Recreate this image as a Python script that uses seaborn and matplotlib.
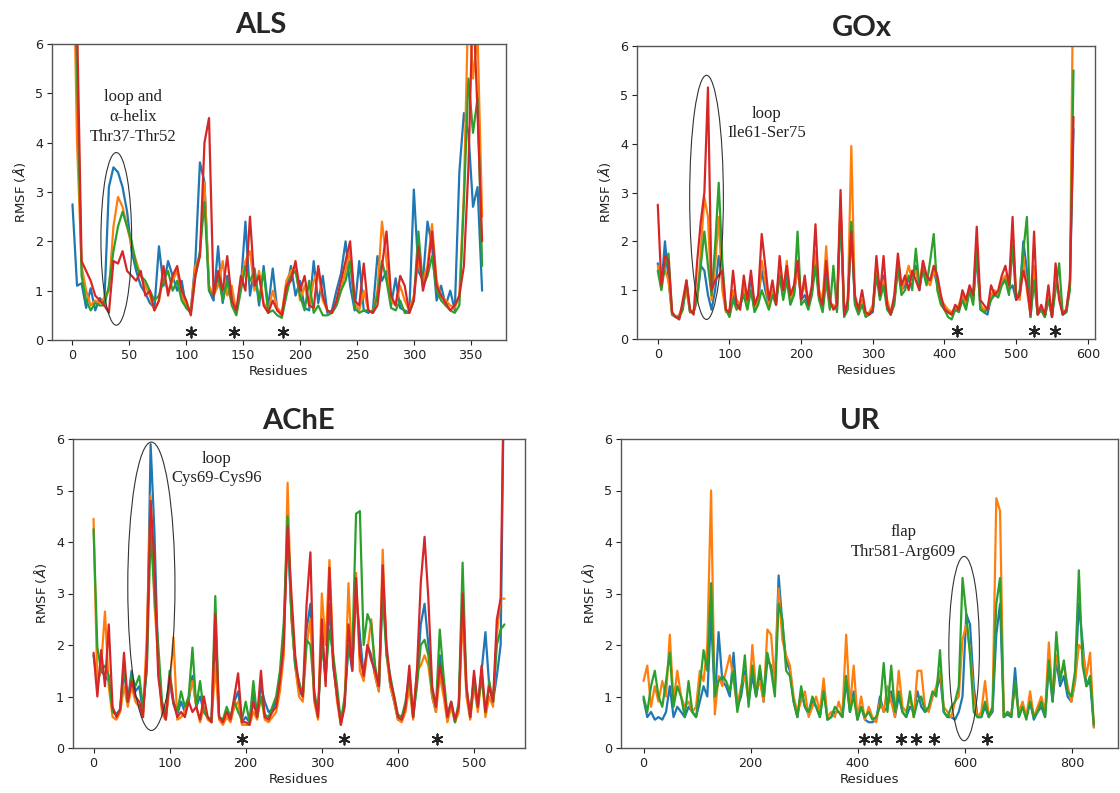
import numpy as np
import pandas as pd
import seaborn as sns
import matplotlib
matplotlib.use("Agg")
import matplotlib.pyplot as plt
from matplotlib.patches import Ellipse

sns.set_theme(style="ticks")
plt.rcParams["font.family"] = ["DejaVu Sans"]
plt.rcParams["mathtext.fontset"] = "dejavusans"

RUNS = ["Run 1", "Run 2", "Run 3", "Run 4"]
COLORS = dict(zip(RUNS, sns.color_palette("tab10", 4)))

# ---------------------------------------------------------------- ALS
als_residue = np.arange(0, 361, 4)
als_run1 = [2.75, 1.10, 1.15, 0.65, 1.05, 0.60, 0.85, 0.75, 3.10, 3.50,
            3.40, 3.10, 2.60, 1.80, 1.40, 1.10, 0.95, 0.75, 0.65, 1.90,
            1.10, 1.60, 1.30, 1.00, 1.20, 0.65, 0.60, 1.60, 3.60, 3.20,
            1.00, 0.80, 1.90, 0.75, 1.30, 0.90, 0.55, 1.10, 2.40, 0.90,
            1.45, 0.70, 1.50, 0.65, 1.45, 0.60, 0.55, 1.00, 1.50, 0.90,
            1.20, 0.65, 0.60, 1.60, 0.75, 1.30, 0.55, 0.60, 1.00, 1.35,
            2.00, 1.10, 0.60, 1.60, 0.60, 0.55, 0.60, 1.70, 1.20, 1.40,
            0.70, 1.25, 0.65, 0.60, 0.55, 3.05, 1.40, 1.20, 2.40, 1.90,
            0.80, 1.10, 0.70, 1.00, 0.60, 3.40, 4.60, 4.20, 2.70, 3.10,
            1.00]
als_run2 = [9.00, 4.00, 1.50, 1.00, 0.70, 0.80, 0.75, 0.85, 1.00, 2.30,
            2.90, 2.70, 2.30, 1.90, 1.60, 1.30, 1.10, 0.90, 0.60, 0.80,
            1.30, 1.00, 1.20, 1.40, 0.90, 0.70, 0.60, 1.50, 1.70, 3.20,
            1.10, 0.90, 1.10, 1.60, 0.90, 1.10, 0.55, 1.20, 1.60, 1.80,
            1.00, 1.40, 0.75, 0.60, 1.00, 0.65, 0.55, 1.20, 1.40, 1.50,
            0.80, 1.10, 0.70, 1.20, 1.40, 0.80, 0.60, 0.55, 0.70, 1.00,
            1.40, 1.80, 0.75, 0.60, 1.00, 0.60, 0.55, 1.00, 2.40, 1.60,
            0.80, 0.70, 1.10, 0.80, 0.60, 0.90, 1.60, 1.20, 1.50, 2.35,
            1.20, 0.90, 0.80, 0.70, 0.65, 0.90, 3.00, 7.00, 5.30, 6.20,
            2.50]
als_run3 = [9.00, 5.50, 1.30, 0.80, 0.60, 0.75, 0.70, 0.70, 1.10, 1.80,
            2.30, 2.60, 2.30, 2.00, 1.50, 1.30, 1.20, 1.00, 0.80, 0.90,
            1.20, 1.40, 1.00, 1.20, 0.80, 0.65, 0.55, 1.30, 1.80, 2.80,
            1.00, 0.90, 1.30, 0.80, 1.20, 0.70, 0.50, 1.00, 1.50, 1.20,
            1.40, 0.80, 1.40, 0.55, 0.60, 0.50, 0.45, 0.90, 1.30, 1.40,
            0.90, 0.60, 1.20, 0.55, 0.70, 0.50, 0.50, 0.55, 0.70, 1.00,
            1.20, 1.60, 0.65, 0.55, 0.60, 0.60, 0.55, 0.90, 1.60, 1.20,
            0.65, 0.60, 0.80, 0.55, 0.55, 0.80, 2.20, 1.10, 1.30, 1.70,
            1.00, 0.80, 0.70, 0.60, 0.55, 0.70, 2.80, 5.30, 4.20, 4.90,
            1.50]
als_run4 = [9.00, 6.50, 1.60, 1.40, 1.20, 0.90, 0.80, 0.70, 0.55, 1.60,
            1.55, 1.80, 1.40, 1.30, 1.20, 1.40, 0.90, 1.00, 0.60, 0.80,
            1.50, 0.90, 1.30, 1.50, 1.00, 0.80, 0.50, 1.30, 1.70, 4.00,
            4.50, 0.90, 1.40, 1.00, 1.70, 0.80, 0.60, 1.30, 1.00, 2.50,
            1.10, 1.30, 0.70, 0.55, 0.80, 0.60, 0.50, 1.10, 1.20, 1.60,
            1.00, 1.30, 0.70, 0.65, 1.50, 0.90, 0.60, 0.55, 0.80, 1.20,
            1.60, 2.00, 0.80, 0.70, 1.55, 0.60, 0.55, 0.70, 1.50, 2.20,
            0.90, 0.70, 1.30, 1.10, 0.55, 0.80, 1.90, 1.00, 1.40, 2.20,
            1.10, 0.90, 0.75, 0.60, 0.70, 0.90, 1.50, 3.50, 7.00, 4.60,
            2.00]
als_stars = [104, 142, 185]

# ---------------------------------------------------------------- GOx
gox_residue = np.arange(0, 581, 5)
gox_run1 = [1.55, 1.05, 2.00, 1.20, 0.50, 0.45, 0.45, 0.70, 1.10, 0.55,
            0.55, 0.80, 1.50, 1.40, 0.90, 0.60, 1.00, 1.70, 1.20, 0.60,
            0.50, 0.90, 0.70, 0.70, 1.00, 0.65, 1.30, 0.60, 0.80, 1.40,
            1.00, 0.70, 1.00, 0.75, 1.40, 0.85, 1.30, 0.80, 0.90, 1.50,
            0.80, 0.90, 0.70, 0.95, 1.70, 0.85, 0.65, 1.40, 0.70, 0.65,
            0.60, 2.70, 0.50, 0.70, 2.30, 0.75, 0.55, 0.80, 0.50, 0.50,
            0.55, 1.50, 0.85, 1.30, 0.70, 0.50, 0.80, 1.50, 1.00, 1.10,
            1.20, 1.30, 1.50, 1.00, 1.50, 1.20, 1.20, 1.40, 1.10, 0.75,
            0.65, 0.55, 0.50, 0.60, 0.60, 0.85, 0.70, 1.00, 0.80, 1.70,
            0.70, 0.55, 0.50, 0.85, 0.95, 0.90, 1.15, 1.25, 1.00, 1.10,
            0.80, 0.90, 2.00, 1.40, 0.45, 1.30, 0.50, 0.60, 0.45, 0.85,
            0.45, 1.20, 0.90, 0.50, 0.55, 1.10, 4.30]
gox_run2 = [1.50, 1.20, 1.40, 1.20, 0.50, 0.45, 0.50, 0.70, 1.00, 0.55,
            0.60, 0.80, 1.80, 2.90, 2.50, 0.80, 1.50, 2.50, 1.00, 0.55,
            0.60, 1.00, 0.80, 0.70, 1.10, 0.70, 1.00, 0.60, 0.80, 1.60,
            1.20, 0.70, 1.00, 0.80, 1.40, 0.90, 1.60, 0.80, 1.00, 1.40,
            0.90, 1.10, 0.80, 1.00, 1.80, 1.00, 0.80, 1.90, 0.70, 0.70,
            0.60, 2.80, 0.60, 0.70, 3.95, 0.80, 0.55, 0.80, 0.50, 0.55,
            0.70, 1.40, 1.00, 1.20, 0.80, 0.55, 0.80, 1.40, 1.00, 1.20,
            1.50, 1.20, 1.40, 1.10, 1.60, 1.20, 1.10, 1.40, 1.20, 0.80,
            0.70, 0.60, 0.55, 0.60, 0.70, 0.90, 0.70, 1.00, 0.80, 2.00,
            0.70, 0.60, 0.65, 0.90, 1.00, 0.90, 1.20, 1.30, 1.00, 2.20,
            0.90, 0.80, 1.70, 1.00, 0.50, 1.50, 0.55, 0.60, 0.45, 0.90,
            0.50, 1.30, 0.90, 0.55, 0.60, 1.10, 8.00]
gox_run3 = [1.40, 1.00, 1.50, 1.75, 0.50, 0.45, 0.45, 0.60, 1.20, 0.55,
            0.55, 0.90, 1.50, 2.20, 1.50, 0.90, 1.90, 3.20, 1.60, 0.60,
            0.45, 0.80, 0.60, 0.70, 0.90, 0.60, 1.00, 0.55, 0.70, 1.00,
            0.80, 0.60, 0.90, 0.70, 1.30, 0.80, 1.20, 0.70, 0.90, 2.20,
            0.70, 0.80, 0.60, 0.90, 1.50, 0.80, 0.55, 1.20, 0.60, 1.50,
            0.55, 2.60, 0.45, 0.60, 2.40, 0.70, 0.50, 0.70, 0.45, 0.50,
            0.60, 1.30, 0.80, 1.10, 0.60, 0.50, 0.70, 1.50, 0.90, 1.00,
            1.30, 1.00, 1.85, 1.10, 1.40, 1.10, 1.60, 2.15, 1.00, 0.70,
            0.60, 0.45, 0.40, 0.60, 0.55, 0.80, 0.60, 1.00, 0.70, 1.80,
            0.60, 0.55, 0.60, 0.80, 0.90, 0.85, 1.10, 1.20, 0.90, 1.90,
            0.80, 1.00, 1.80, 2.50, 0.45, 1.20, 0.50, 0.60, 0.45, 0.80,
            0.45, 1.00, 1.55, 0.50, 0.55, 1.00, 5.50]
gox_run4 = [2.75, 1.10, 1.70, 1.60, 0.55, 0.45, 0.40, 0.80, 1.20, 0.60,
            0.50, 1.60, 2.40, 3.00, 5.15, 1.00, 1.20, 1.30, 1.40, 0.60,
            0.55, 1.40, 0.70, 0.60, 1.30, 0.80, 1.40, 0.70, 0.90, 2.15,
            1.50, 0.80, 1.20, 0.70, 1.70, 1.00, 1.50, 0.90, 1.10, 1.60,
            0.80, 1.30, 0.70, 1.10, 2.35, 0.90, 0.70, 1.60, 0.80, 0.60,
            0.70, 3.05, 0.50, 0.80, 2.20, 0.90, 0.60, 1.00, 0.55, 0.50,
            0.60, 1.70, 0.90, 1.70, 0.70, 0.50, 0.90, 1.75, 1.10, 1.30,
            1.00, 1.40, 1.20, 1.00, 1.60, 1.30, 1.20, 1.50, 1.30, 0.90,
            0.60, 0.55, 0.50, 0.70, 0.60, 1.00, 0.80, 1.10, 0.90, 2.30,
            0.80, 0.70, 0.60, 1.10, 0.90, 1.00, 1.30, 1.50, 1.10, 2.50,
            0.80, 0.90, 1.40, 1.10, 0.50, 2.20, 0.50, 0.70, 0.50, 1.10,
            0.45, 1.55, 0.80, 0.50, 0.60, 1.20, 4.55]
gox_stars = [417, 525, 554]

# ---------------------------------------------------------------- AChE
ache_residue = np.arange(0, 541, 5)
ache_run1 = [1.80, 1.30, 1.50, 1.40, 1.30, 0.75, 0.65, 0.75, 1.50, 0.90,
             1.50, 1.10, 1.20, 0.70, 1.60, 5.90, 4.20, 1.60, 0.80, 0.60,
             1.30, 0.85, 0.65, 0.90, 0.70, 0.90, 1.40, 0.80, 1.00, 0.70,
             0.60, 0.50, 2.20, 0.60, 0.55, 0.70, 0.55, 0.90, 1.10, 0.50,
             0.60, 0.50, 1.10, 0.60, 1.20, 0.90, 0.70, 0.75, 0.90, 1.30,
             2.20, 4.20, 2.60, 1.60, 1.10, 1.00, 2.30, 2.80, 1.00, 0.65,
             2.20, 1.30, 2.80, 1.60, 1.00, 0.50, 0.90, 2.00, 1.50, 3.00,
             2.20, 1.40, 2.00, 1.80, 1.40, 1.10, 3.20, 1.90, 1.20, 0.90,
             0.55, 0.55, 0.80, 1.30, 0.60, 1.30, 2.40, 2.80, 2.00, 1.00,
             0.70, 1.80, 1.20, 0.55, 0.85, 0.50, 0.80, 2.90, 1.10, 0.60,
             1.40, 0.80, 1.50, 2.25, 1.20, 0.90, 1.40, 2.00, 8.00]
ache_run2 = [4.45, 1.20, 1.60, 2.65, 1.20, 0.60, 0.55, 0.70, 1.20, 0.80,
             1.20, 0.90, 0.80, 0.60, 2.20, 4.90, 2.80, 1.70, 0.65, 0.55,
             1.20, 2.15, 0.55, 0.60, 0.70, 1.00, 1.30, 0.80, 0.50, 0.80,
             0.55, 0.50, 1.60, 0.55, 0.45, 0.60, 0.50, 0.80, 0.90, 0.45,
             0.45, 0.45, 0.70, 0.55, 1.00, 0.55, 0.50, 0.60, 0.70, 1.10,
             1.80, 5.15, 2.50, 1.60, 1.00, 0.90, 2.00, 2.50, 0.90, 0.55,
             3.00, 2.00, 3.65, 1.80, 0.90, 0.45, 0.90, 3.20, 1.60, 3.40,
             1.50, 1.30, 1.90, 2.50, 1.40, 1.10, 3.85, 1.80, 1.20, 0.90,
             0.55, 0.50, 0.70, 1.20, 0.55, 1.50, 1.60, 1.80, 1.60, 1.00,
             0.70, 1.40, 1.00, 0.50, 0.80, 0.50, 0.70, 2.60, 1.00, 0.55,
             1.20, 0.70, 1.40, 0.60, 1.00, 0.80, 2.20, 2.90, 2.90]
ache_run3 = [4.25, 1.95, 1.50, 1.60, 1.40, 0.70, 0.65, 0.75, 1.60, 0.90,
             1.40, 1.20, 1.40, 0.80, 1.50, 4.20, 3.00, 2.00, 0.90, 0.65,
             1.50, 0.90, 0.70, 1.10, 0.80, 1.00, 1.95, 0.80, 1.30, 0.70,
             0.60, 0.55, 2.95, 0.60, 0.55, 0.80, 0.60, 0.90, 0.70, 0.55,
             0.90, 0.50, 1.30, 0.60, 1.00, 0.65, 0.60, 0.80, 1.00, 1.50,
             2.45, 4.50, 2.60, 1.60, 1.30, 1.00, 2.10, 2.00, 1.10, 0.70,
             2.00, 1.40, 2.30, 1.80, 1.20, 0.50, 1.00, 2.00, 1.80, 4.55,
             4.60, 2.00, 2.60, 2.40, 1.60, 1.20, 3.00, 1.80, 1.40, 1.00,
             0.65, 0.60, 0.90, 1.40, 0.60, 1.20, 2.00, 2.10, 1.80, 1.10,
             0.80, 2.30, 1.40, 0.65, 0.90, 0.50, 0.90, 3.60, 1.20, 0.60,
             1.30, 0.80, 1.40, 0.70, 1.30, 0.90, 2.00, 2.30, 2.40]
ache_run4 = [1.85, 1.00, 1.90, 1.20, 2.40, 0.80, 0.60, 0.75, 1.85, 0.90,
             1.30, 1.00, 0.90, 0.60, 1.80, 4.80, 3.60, 1.40, 0.80, 0.55,
             1.40, 0.90, 0.60, 0.70, 0.60, 0.90, 0.70, 0.80, 0.55, 1.00,
             0.60, 0.50, 2.60, 0.60, 0.50, 0.70, 0.55, 1.00, 1.45, 0.50,
             0.50, 0.45, 0.90, 0.60, 1.50, 0.60, 0.55, 0.70, 0.80, 1.30,
             2.00, 4.30, 3.00, 1.80, 1.20, 1.00, 2.80, 3.80, 1.00, 0.60,
             2.50, 1.20, 3.50, 1.60, 1.00, 0.45, 0.80, 2.40, 1.50, 3.30,
             1.80, 1.40, 2.00, 1.70, 1.50, 1.20, 3.55, 2.00, 1.30, 1.00,
             0.60, 0.55, 0.80, 1.60, 0.60, 1.50, 3.20, 4.10, 2.90, 1.20,
             0.80, 1.60, 1.20, 0.60, 0.90, 0.55, 0.80, 3.00, 1.20, 0.60,
             1.50, 0.80, 1.60, 0.70, 1.20, 0.90, 2.50, 2.90, 8.00]
ache_stars = [195, 329, 452]

# ---------------------------------------------------------------- UR
ur_residue = np.arange(0, 841, 7)
ur_run1 = [0.95, 0.60, 0.70, 0.55, 0.60, 0.55, 0.70, 1.20, 0.60, 0.80,
           0.70, 0.60, 0.80, 0.70, 0.60, 0.90, 1.20, 1.00, 2.60, 0.90,
           2.25, 1.30, 1.20, 1.00, 1.85, 0.80, 1.00, 1.50, 0.90, 1.40,
           1.00, 1.40, 0.90, 1.70, 1.60, 1.20, 3.35, 2.40, 1.70, 1.50,
           0.90, 0.60, 1.10, 0.80, 0.65, 0.90, 0.80, 0.60, 1.20, 0.55,
           0.60, 0.70, 0.70, 0.60, 1.30, 0.70, 1.10, 0.55, 0.80, 0.55,
           0.50, 0.50, 0.55, 1.00, 0.70, 0.80, 1.10, 0.60, 1.00, 0.70,
           0.60, 0.80, 0.70, 1.10, 0.80, 0.70, 0.75, 1.00, 1.10, 1.40,
           0.70, 0.60, 0.60, 0.55, 0.70, 1.00, 2.60, 2.40, 1.20, 0.60,
           0.60, 0.80, 0.60, 0.70, 2.20, 2.80, 0.60, 0.65, 0.60, 1.55,
           0.60, 0.80, 0.60, 0.90, 0.55, 0.70, 0.80, 0.60, 1.60, 0.90,
           1.70, 1.20, 1.40, 1.00, 0.90, 1.30, 2.80, 2.05, 1.20, 1.30,
           0.40]
ur_run2 = [1.30, 1.60, 0.80, 1.20, 0.90, 1.30, 1.00, 2.20, 0.90, 1.50,
           1.00, 0.80, 0.90, 0.70, 0.80, 1.50, 1.30, 2.00, 5.00, 0.65,
           1.40, 1.20, 1.50, 1.80, 1.30, 0.80, 1.20, 1.40, 0.90, 2.00,
           1.10, 1.30, 0.90, 2.30, 2.20, 1.20, 3.10, 2.10, 1.80, 1.60,
           1.00, 0.70, 0.90, 1.10, 0.60, 0.80, 1.00, 0.70, 1.35, 0.60,
           0.70, 0.60, 0.90, 0.65, 2.20, 0.80, 1.60, 0.60, 1.00, 0.55,
           0.80, 0.60, 0.50, 0.90, 0.70, 1.20, 0.90, 0.60, 1.50, 0.80,
           0.70, 1.00, 0.60, 1.50, 1.50, 0.80, 0.70, 1.00, 1.20, 1.50,
           0.80, 0.70, 0.60, 0.90, 1.00, 2.10, 2.40, 1.90, 1.00, 0.60,
           0.70, 1.30, 0.60, 0.80, 4.85, 4.60, 0.60, 0.70, 0.65, 1.20,
           0.70, 0.90, 0.60, 1.10, 0.60, 0.80, 1.00, 0.70, 2.05, 1.00,
           1.80, 1.40, 1.60, 1.20, 0.90, 1.30, 2.00, 1.90, 1.40, 1.85,
           0.40]
ur_run3 = [1.00, 0.70, 1.20, 1.50, 1.00, 0.80, 1.30, 1.85, 0.80, 1.20,
           1.00, 0.60, 1.30, 0.70, 0.60, 1.20, 1.90, 1.50, 3.20, 1.00,
           1.30, 1.40, 1.30, 1.10, 1.50, 0.70, 1.10, 1.80, 0.80, 1.60,
           1.00, 1.60, 1.00, 1.85, 1.50, 1.00, 2.80, 2.50, 1.50, 1.40,
           0.90, 0.60, 1.20, 0.80, 0.70, 1.00, 0.80, 0.60, 1.10, 0.55,
           0.60, 0.80, 0.70, 0.60, 1.40, 0.70, 1.00, 0.55, 0.80, 0.60,
           0.70, 0.55, 0.60, 0.80, 1.65, 0.70, 1.60, 0.70, 1.10, 0.70,
           0.60, 1.10, 0.60, 0.90, 1.00, 0.70, 0.80, 1.10, 1.00, 1.90,
           0.70, 0.60, 0.80, 0.90, 1.20, 3.30, 2.60, 1.80, 0.70, 0.60,
           0.60, 0.90, 0.60, 0.80, 2.80, 3.30, 0.60, 0.70, 0.60, 1.30,
           0.60, 0.80, 0.55, 0.90, 0.60, 0.70, 0.90, 0.60, 1.70, 0.90,
           2.25, 1.30, 1.70, 1.10, 1.00, 1.50, 3.45, 1.60, 1.20, 1.40,
           0.45]
ur_stars = [411, 433, 481, 508, 541, 641]

Y_TICKS = [0, 1, 2, 3, 4, 5, 6]


def long_frame(residue, series):
    parts = []
    for name, values in zip(RUNS, series):
        parts.append(pd.DataFrame({"Residue": residue, "RMSF": values, "Run": name}))
    return pd.concat(parts, ignore_index=True)


panels = [
    dict(title="ALS", title_xy=(261, 25), rect=(52, 44, 506, 340),
         residue=als_residue, series=[als_run1, als_run2, als_run3, als_run4],
         xlim=(-18, 381), xticks=[0, 50, 100, 150, 200, 250, 300, 350],
         ellipse=((38.5, 2.05), 27, 3.5),
         note="loop and\nα-helix\nThr37-Thr52", note_xy=(53, 4.52), stars=als_stars),
    dict(title="GOx", title_xy=(862, 28), rect=(637, 46, 1095, 339),
         residue=gox_residue, series=[gox_run1, gox_run2, gox_run3, gox_run4],
         xlim=(-29, 610), xticks=[0, 100, 200, 300, 400, 500, 600],
         ellipse=((68, 2.9), 47, 5.0),
         note="loop\nIle61-Ser75", note_xy=(152, 4.41), stars=gox_stars),
    dict(title="AChE", title_xy=(298, 421), rect=(73, 439, 525, 748),
         residue=ache_residue, series=[ache_run1, ache_run2, ache_run3, ache_run4],
         xlim=(-27, 567), xticks=[0, 100, 200, 300, 400, 500],
         ellipse=((76, 3.14), 62, 5.6),
         note="loop\nCys69-Cys96", note_xy=(162, 5.43), stars=ache_stars),
    dict(title="UR", title_xy=(860, 421), rect=(621, 439, 1118, 748),
         residue=ur_residue, series=[ur_run1, ur_run2, ur_run3],
         xlim=(-42, 885), xticks=[0, 200, 400, 600, 800],
         ellipse=((598, 1.93), 57, 3.58),
         note="flap\nThr581-Arg609", note_xy=(484, 4.0), stars=ur_stars),
]

W, H = 1120, 793
fig = plt.figure(figsize=(W / 100, H / 100), dpi=100)

for p in panels:
    x0, y0, x1, y1 = p["rect"]
    ax = fig.add_axes([x0 / W, 1 - y1 / H, (x1 - x0) / W, (y1 - y0) / H])
    names = RUNS[:len(p["series"])]
    df = long_frame(p["residue"], p["series"])
    sns.lineplot(data=df, x="Residue", y="RMSF", hue="Run", hue_order=names,
                 palette=COLORS, estimator=None, sort=False, linewidth=1.6,
                 legend=False, ax=ax)
    ax.set_xlim(*p["xlim"])
    ax.set_ylim(0, 6)
    ax.set_xticks(p["xticks"])
    ax.set_yticks(Y_TICKS)
    ax.set_xlabel("Residues", fontsize=9.5, labelpad=2, color="#222")
    ax.set_ylabel(r"RMSF ($\AA$)", fontsize=9.5, labelpad=5, color="#222")
    ax.tick_params(labelsize=9.2, length=3.5, width=0.8, colors="#222", pad=3)
    for s in ax.spines.values():
        s.set_visible(True)
        s.set_color("#555555")
        s.set_linewidth(1.0)

    (ex, ey), ew, eh = p["ellipse"]
    ax.add_patch(Ellipse((ex, ey), ew, eh, fill=False, edgecolor="#333333",
                         linewidth=0.8, zorder=5))
    ax.text(p["note_xy"][0], p["note_xy"][1], p["note"], ha="center", va="center",
            fontsize=12, family=["Liberation Serif", "DejaVu Serif"],
            linespacing=1.3, color="#222")
    ax.scatter(p["stars"], [0.17] * len(p["stars"]), marker=(6, 2, 0), s=55,
               color="#222", linewidths=1.3, zorder=6)

    tx, ty = p["title_xy"]
    fig.text(tx / W, 1 - ty / H, p["title"], ha="center", va="center",
             fontsize=21, fontweight="bold", family=["Lato", "DejaVu Sans"])

fig.savefig("out.png", dpi=100)
